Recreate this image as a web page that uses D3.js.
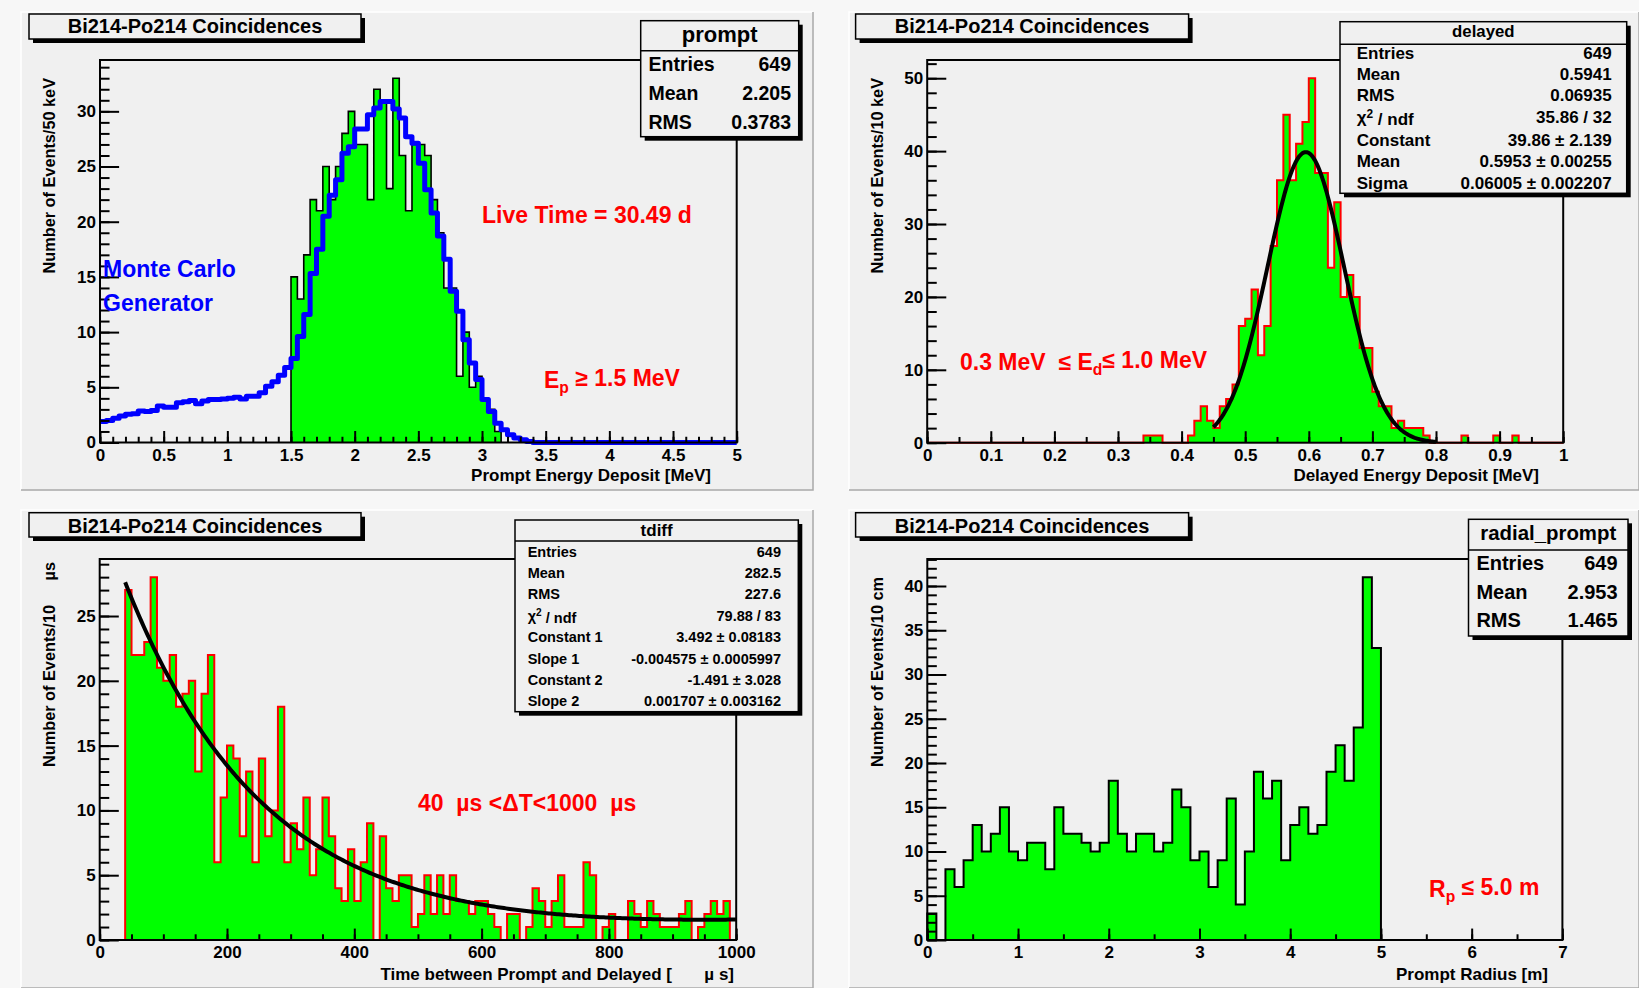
<!DOCTYPE html>
<html>
<head>
<meta charset="utf-8">
<script src="https://cdn.jsdelivr.net/npm/d3@7"></script>
<style>
  body { margin: 0; background: #f7f7f7; }
  svg { display: block; }
  text { font-family: "Liberation Sans", Arial, Helvetica, sans-serif; font-weight: bold; }
</style>
</head>
<body>
<svg id="chart" width="1639" height="988"></svg>
<script>
// ---------------- data ----------------
const titleText = "Bi214-Po214 Coincidences";

// prompt energy (data, 50 keV bins starting at 1.5 MeV)
const promptBinStart = 1.5;
const promptBinWidth = 0.05;
const promptCounts = [15,13,17,22,21,25,22,25,28,30,27,27,22,32,31,23,33,26,21,27,27,26,22,19,14,14,6,10,5,6,4,3,1];

// Monte Carlo generator spectrum (50 keV bins from 0 to 5 MeV)
const mcBinWidth = 0.05;
const mcCounts = [
  1.9,2.0,2.2,2.4,2.55,2.6,2.85,2.8,2.9,3.3,
  3.2,3.2,3.6,3.7,3.8,3.5,3.75,3.9,3.9,3.95,
  4.0,4.1,3.95,4.2,4.2,4.5,5.1,5.5,6.1,6.8,
  7.6,9.6,11.6,15.3,17.5,20.5,22.4,23.8,26.2,26.8,
  28.4,28.4,29.7,30.3,30.9,30.9,30.2,29.4,27.7,27.1,
  25.3,22.9,20.8,18.7,16.6,13.7,11.9,9.3,7.2,5.7,
  3.9,2.8,1.75,1.15,0.7,0.4,0.25,0.1,0,0,
  0,0,0,0,0,0,0,0,0,0,
  0,0,0,0,0,0,0,0,0,0,
  0,0,0,0,0,0,0,0,0,0
];

// delayed energy (10 keV bins from 0 to 1 MeV)
const delayedBinWidth = 0.01;
const delayedCounts = [
  0,0,0,0,0,0,0,0,0,0,
  0,0,0,0,0,0,0,0,0,0,
  0,0,0,0,0,0,0,0,0,0,
  0,0,0,0,1,1,1,0,0,0,
  0,1,3,5,3,2,5,6,8,16,
  17,21,12,16,27,36,45,36,41,44,
  50,37,37,24,33,20,23,20,13,13,
  7,5,5,2,3,2,2,2,1,0,
  0,0,0,0,1,0,0,0,0,1,
  0,0,1,0,0,0,0,0,0,0
];
const gausParams = [39.86, 0.5953, 0.06005];   // constant, mean, sigma
const gausRange = [0.45, 0.80];

// time difference (10 us bins from 40 to 1000 us)
const tdiffBinStart = 40;
const tdiffBinWidth = 10;
const tdiffCounts = [
  27,22,22,23,28,21,20,22,18,19,
  20,13,19,22,6,11,15,14,8,13,
  6,14,8,10,18,6,9,7,11,5,
  7,11,8,4,3,7,3,6,9,0,
  8,4,3,5,5,1,
  2,5,2,5,2,5,3,3,2,3,
  3,2,1,0,2,2,0,1,4,3,
  1,3,5,1,1,1,6,5,0,1,
  2,0,0,3,2,1,3,2,1,1,
  1,2,3,0,1,2,3,2,3,0
];
const expoParams = [3.492, -0.004575, -1.491, 0.001707]; // const1, slope1, const2, slope2
const expoRange = [40, 1000];

// prompt radius (10 cm bins from 0 to 5 m)
const radialBinWidth = 0.1;
const radialCounts = [
  3,0,8,6,9,13,10,12,15,10,
  9,11,11,8,15,12,12,11,10,11,
  18,12,10,12,12,10,11,17,15,9,
  10,6,9,16,4,10,19,16,18,9,
  13,15,12,13,19,22,18,24,41,33
];

// tick values
const promptXMajor = [0,0.5,1,1.5,2,2.5,3,3.5,4,4.5,5];
const promptYMajor = [0,5,10,15,20,25,30];
const delayedXMajor = [0,0.1,0.2,0.3,0.4,0.5,0.6,0.7,0.8,0.9,1];
const delayedYMajor = [0,10,20,30,40,50];
const tdiffXMajor = [0,200,400,600,800,1000];
const tdiffYMajor = [0,5,10,15,20,25];
const radialXMajor = [0,1,2,3,4,5,6,7];
const radialYMajor = [0,5,10,15,20,25,30,35,40];

// statistics boxes
const promptStats = [["Entries","649"],["Mean","2.205"],["RMS","0.3783"]];
const delayedStats = [["Entries","649"],["Mean","0.5941"],["RMS","0.06935"],["χ2 / ndf","35.86 / 32"],
  ["Constant","39.86 ± 2.139"],["Mean","0.5953 ± 0.00255"],["Sigma","0.06005 ± 0.002207"]];
const tdiffStats = [["Entries","649"],["Mean","282.5"],["RMS","227.6"],["χ2 / ndf","79.88 / 83"],
  ["Constant 1","3.492 ± 0.08183"],["Slope 1","-0.004575  ± 0.0005997"],["Constant 2","-1.491  ± 3.028"],
  ["Slope 2","0.001707  ± 0.003162"]];
const radialStats = [["Entries","649"],["Mean","2.953"],["RMS","1.465"]];

// ---------------- helpers ----------------
const svg = d3.select("#chart");
const GREEN = "#00ff00";
const TICK_FONT = 17;

function drawPad(x, y, w, h) {
  const g = svg.append("g");
  g.append("rect").attr("x", x).attr("y", y).attr("width", w).attr("height", h).attr("fill", "#f0f0f0");
  g.append("path").attr("d", `M${x},${y + h}V${y}H${x + w}`)
    .attr("fill", "none").attr("stroke", "#ffffff").attr("stroke-width", 1.5);
  g.append("path").attr("d", `M${x},${y + h}H${x + w}V${y}`)
    .attr("fill", "none").attr("stroke", "#a9a9a9").attr("stroke-width", 1.5);
}

function shadowBox(g, x, y, w, h, sh) {
  g.append("rect").attr("x", x + sh).attr("y", y + sh).attr("width", w).attr("height", h).attr("fill", "#000");
  g.append("rect").attr("x", x).attr("y", y).attr("width", w).attr("height", h)
    .attr("fill", "#f0f0f0").attr("stroke", "#000").attr("stroke-width", 1.5);
}

function titleBox(g, b) {
  shadowBox(g, b.x, b.y, b.w, b.h, 4);
  g.append("text").attr("x", b.x + b.w / 2).attr("y", b.base).attr("text-anchor", "middle")
    .attr("font-size", 20).text(titleText);
}

function writeLabel(t, label) {
  if (label.startsWith("χ2")) {
    t.append("tspan").text("χ");
    t.append("tspan").attr("dy", "-0.45em").attr("font-size", "0.7em").text("2");
    t.append("tspan").attr("dy", "0.45em").text(label.slice(2));
  } else {
    t.text(label);
  }
}

function statsBox(g, s, header, rows) {
  shadowBox(g, s.x, s.y, s.w, s.h, 4);
  g.append("line").attr("x1", s.x).attr("x2", s.x + s.w).attr("y1", s.sep).attr("y2", s.sep)
    .attr("stroke", "#000").attr("stroke-width", 1.5);
  g.append("text").attr("x", s.x + s.w / 2).attr("y", s.headBase).attr("text-anchor", "middle")
    .attr("font-size", s.headSize).text(header);
  rows.forEach((r, i) => {
    const t = g.append("text").attr("x", s.labelX).attr("y", s.rowBase[i]).attr("font-size", s.size);
    writeLabel(t, r[0]);
    g.append("text").attr("x", s.valueX).attr("y", s.rowBase[i]).attr("text-anchor", "end")
      .attr("font-size", s.size).text(r[1]);
  });
}

function stepPoints(start, width, counts, closeEnds) {
  const pts = closeEnds ? [[start, 0]] : [];
  counts.forEach((c, i) => { pts.push([start + i * width, c]); pts.push([start + (i + 1) * width, c]); });
  if (closeEnds) pts.push([start + counts.length * width, 0]);
  return pts;
}

function minorValues(domain, step) {
  const out = [];
  const n = Math.round((domain[1] - domain[0]) / step);
  for (let i = 0; i <= n; i++) out.push(+(domain[0] + i * step).toFixed(6));
  return out;
}

function fmt(v) { return String(+v.toFixed(3)); }

function styleAxis(sel) {
  sel.select(".domain").remove();
  sel.selectAll(".tick line").attr("stroke", "#000").attr("stroke-width", 2);
  sel.selectAll(".tick text").attr("fill", "#000").attr("font-size", TICK_FONT)
    .attr("font-family", "'Liberation Sans', Arial, sans-serif").attr("font-weight", "bold");
}

function panel(L) {
  const g = svg.append("g");
  const f = L.frame;
  const x = d3.scaleLinear().domain(L.xDomain).range([f.left, f.right]);
  const y = d3.scaleLinear().domain([0, L.yMax]).range([f.bottom, f.top]);
  return { g, x, y, f };
}

function histogram(P, start, width, counts, lineColor, lineWidth) {
  const line = d3.line().x(d => P.x(d[0])).y(d => P.y(d[1]));
  const pts = stepPoints(start, width, counts, true);
  P.g.append("path").attr("d", line(pts) + "Z").attr("fill", GREEN).attr("stroke", "none");
  P.g.append("path").attr("d", line(pts)).attr("fill", "none")
    .attr("stroke", lineColor).attr("stroke-width", lineWidth).attr("stroke-linejoin", "miter");
}

function axes(P, L) {
  const { g, x, y, f } = P;
  const xMaj = 0.03 * (f.bottom - f.top);
  const yMaj = 0.03 * (f.right - f.left);
  g.append("g").attr("transform", `translate(0,${f.bottom})`)
    .call(d3.axisBottom(x).tickValues(minorValues(L.xDomain, L.xMinor)).tickSize(-xMaj / 2).tickFormat(""))
    .call(styleAxis);
  g.append("g").attr("transform", `translate(0,${f.bottom})`)
    .call(d3.axisBottom(x).tickValues(L.xMajor).tickSize(-xMaj).tickPadding(6.4).tickFormat(fmt))
    .call(styleAxis);
  g.append("g").attr("transform", `translate(${f.left},0)`)
    .call(d3.axisLeft(y).tickValues(minorValues([0, Math.floor(L.yMax / L.yMinor) * L.yMinor], L.yMinor))
      .tickSize(-yMaj / 2).tickFormat(""))
    .call(styleAxis);
  g.append("g").attr("transform", `translate(${f.left},0)`)
    .call(d3.axisLeft(y).tickValues(L.yMajor).tickSize(-yMaj).tickPadding(4).tickFormat(fmt))
    .call(styleAxis);
  g.append("rect").attr("x", f.left).attr("y", f.top).attr("width", f.right - f.left).attr("height", f.bottom - f.top)
    .attr("fill", "none").attr("stroke", "#000").attr("stroke-width", 2);
}

function yTitle(g, xb, yEnd, str) {
  g.append("text").attr("transform", `translate(${xb},${yEnd}) rotate(-90)`).attr("text-anchor", "end")
    .attr("font-size", 16.3).text(str);
}
function xTitle(g, xEnd, yb, str) {
  g.append("text").attr("x", xEnd).attr("y", yb).attr("text-anchor", "end").attr("font-size", 17).text(str);
}
function subText(g, x, y, color, size, parts) {
  const t = g.append("text").attr("x", x).attr("y", y).attr("fill", color).attr("font-size", size)
    .attr("xml:space", "preserve").style("white-space", "pre");
  parts.forEach(p => {
    const ts = t.append("tspan").text(p.t);
    if (p.sub) ts.attr("dy", "0.32em").attr("font-size", size * 0.68);
    if (p.back) ts.attr("dy", "-0.32em");
  });
}

// ---------------- pads ----------------
drawPad(21, 12, 792, 478);
drawPad(849, 12, 790, 478);
drawPad(21, 510, 792, 478);
drawPad(849, 510, 790, 478);

// ---------------- panel 1: prompt energy ----------------
{
  const L = { frame: { left: 100, right: 736.7, top: 60, bottom: 442.5 }, xDomain: [0, 5],
    yMax: d3.max(promptCounts) * 1.05, xMajor: promptXMajor, xMinor: 0.1, yMajor: promptYMajor, yMinor: 1 };
  const P = panel(L);
  histogram(P, promptBinStart, promptBinWidth, promptCounts, "#000", 1.6);
  const line = d3.line().x(d => P.x(d[0])).y(d => P.y(d[1]));
  P.g.append("path").attr("d", line(stepPoints(0, mcBinWidth, mcCounts, false)))
    .attr("fill", "none").attr("stroke", "#0000ff").attr("stroke-width", 5).attr("stroke-linejoin", "round");
  axes(P, L);
  yTitle(P.g, 55, 78, "Number of Events/50 keV");
  xTitle(P.g, 711, 481, "Prompt Energy Deposit [MeV]");
  subText(P.g, 482, 222.7, "#ff0000", 23, [{ t: "Live Time = 30.49 d" }]);
  subText(P.g, 544, 388, "#ff0000", 23, [{ t: "E" }, { t: "p", sub: true }, { t: " ≥ 1.5 MeV", back: true }]);
  subText(P.g, 103, 277, "#0000ff", 23, [{ t: "Monte Carlo" }]);
  subText(P.g, 103, 311, "#0000ff", 23, [{ t: "Generator" }]);
  titleBox(P.g, { x: 29, y: 14, w: 332, h: 25, base: 33.3 });
  statsBox(P.g, { x: 640.7, y: 20.7, w: 158, h: 116, sep: 50.7, headBase: 42, headSize: 22,
    rowBase: [71, 100, 128.5], size: 19.5, labelX: 648.5, valueX: 791 }, "prompt", promptStats);
}

// ---------------- panel 2: delayed energy ----------------
{
  const L = { frame: { left: 927.2, right: 1563.2, top: 60, bottom: 442.7 }, xDomain: [0, 1],
    yMax: d3.max(delayedCounts) * 1.05, xMajor: delayedXMajor, xMinor: 0.05, yMajor: delayedYMajor, yMinor: 2 };
  const P = panel(L);
  histogram(P, 0, delayedBinWidth, delayedCounts, "#ff0000", 2);
  const [A, mu, sg] = gausParams;
  const fit = d3.range(0, 201).map(i => {
    const e = gausRange[0] + (gausRange[1] - gausRange[0]) * i / 200;
    return [e, A * Math.exp(-0.5 * ((e - mu) / sg) ** 2)];
  });
  P.g.append("path").attr("d", d3.line().x(d => P.x(d[0])).y(d => P.y(d[1]))(fit))
    .attr("fill", "none").attr("stroke", "#000").attr("stroke-width", 4);
  axes(P, L);
  yTitle(P.g, 883, 78, "Number of Events/10 keV");
  xTitle(P.g, 1539, 481, "Delayed Energy Deposit [MeV]");
  subText(P.g, 960, 370, "#ff0000", 23,
    [{ t: "0.3 MeV  ≤ E" }, { t: "d", sub: true }, { t: "≤ 1.0 MeV", back: true }]);
  titleBox(P.g, { x: 855.6, y: 14, w: 333, h: 25, base: 33.3 });
  statsBox(P.g, { x: 1340, y: 21.7, w: 286.7, h: 171.6, sep: 44.3, headBase: 37, headSize: 16.8,
    rowBase: [59, 80, 101, 123, 145.5, 167, 188.5], size: 17, labelX: 1356.7, valueX: 1611.7 },
    "delayed", delayedStats);
}

// ---------------- panel 3: time difference ----------------
{
  const L = { frame: { left: 99.7, right: 736.2, top: 559, bottom: 940 }, xDomain: [0, 1000],
    yMax: d3.max(tdiffCounts) * 1.05, xMajor: tdiffXMajor, xMinor: 50, yMajor: tdiffYMajor, yMinor: 1 };
  const P = panel(L);
  histogram(P, tdiffBinStart, tdiffBinWidth, tdiffCounts, "#ff0000", 2);
  const [c1, s1, c2, s2] = expoParams;
  const fit = d3.range(0, 301).map(i => {
    const t = expoRange[0] + (expoRange[1] - expoRange[0]) * i / 300;
    return [t, Math.exp(c1 + s1 * t) + Math.exp(c2 + s2 * t)];
  });
  P.g.append("path").attr("d", d3.line().x(d => P.x(d[0])).y(d => P.y(d[1]))(fit))
    .attr("fill", "none").attr("stroke", "#000").attr("stroke-width", 4);
  axes(P, L);
  yTitle(P.g, 55, 605, "Number of Events/10");
  yTitle(P.g, 55, 562, "µs");
  xTitle(P.g, 672, 980, "Time between Prompt and Delayed [");
  xTitle(P.g, 734, 980, "µ s]");
  subText(P.g, 418, 811, "#ff0000", 23, [{ t: "40  µs <ΔT<1000  µs" }]);
  titleBox(P.g, { x: 29, y: 512.7, w: 332, h: 24.3, base: 532.7 });
  statsBox(P.g, { x: 515, y: 520, w: 283.3, h: 191.7, sep: 541, headBase: 536, headSize: 17,
    rowBase: [556.7, 578.3, 599, 621, 642.3, 663.5, 685, 706], size: 14.5, labelX: 527.7, valueX: 781 },
    "tdiff", tdiffStats);
}

// ---------------- panel 4: prompt radius ----------------
{
  const L = { frame: { left: 927.3, right: 1562.4, top: 559, bottom: 940 }, xDomain: [0, 7],
    yMax: d3.max(radialCounts) * 1.05, xMajor: radialXMajor, xMinor: 0.5, yMajor: radialYMajor, yMinor: 1 };
  const P = panel(L);
  histogram(P, 0, radialBinWidth, radialCounts, "#000", 2);
  axes(P, L);
  yTitle(P.g, 883, 577, "Number of Events/10 cm");
  xTitle(P.g, 1548, 980, "Prompt Radius [m]");
  subText(P.g, 1429, 897, "#ff0000", 23, [{ t: "R" }, { t: "p", sub: true }, { t: " ≤ 5.0 m", back: true }]);
  titleBox(P.g, { x: 855.6, y: 512.7, w: 333, h: 24.3, base: 532.7 });
  statsBox(P.g, { x: 1468.5, y: 519.3, w: 159.5, h: 116.7, sep: 550, headBase: 540, headSize: 20.4,
    rowBase: [570, 599, 627.3], size: 20, labelX: 1476.4, valueX: 1617.6 }, "radial_prompt", radialStats);
}
</script>
</body>
</html>
